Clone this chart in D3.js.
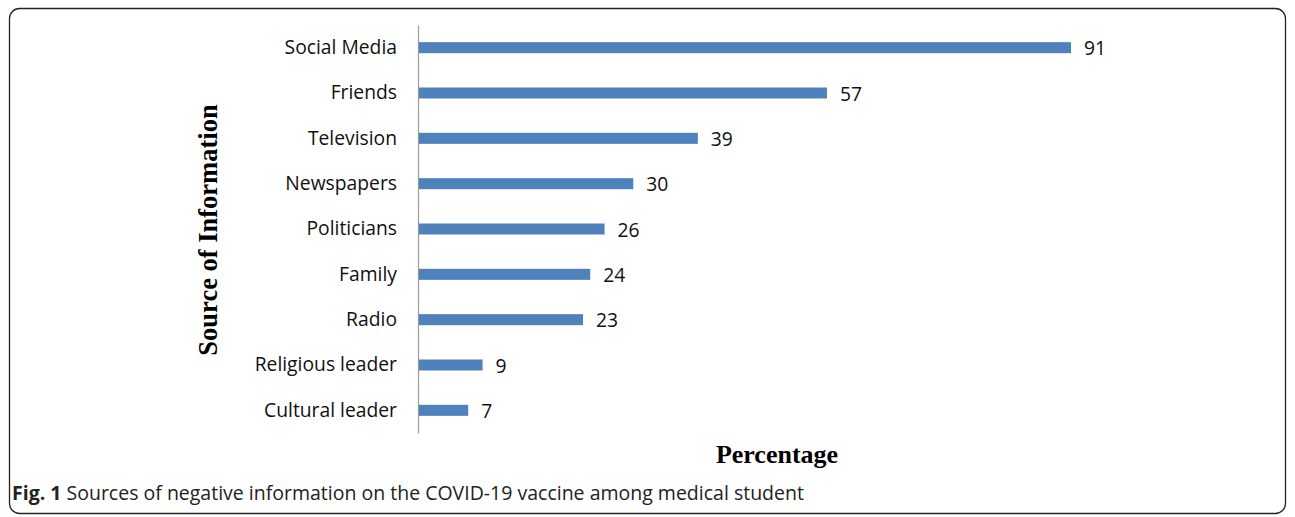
<!DOCTYPE html>
<html>
<head>
<meta charset="utf-8">
<script src="https://cdn.jsdelivr.net/npm/d3@7"></script>
<style>
  body { margin: 0; background: #fff; }
</style>
</head>
<body>
<div id="chart"></div>
<script>
// data
const sources = ["Social Media", "Friends", "Television", "Newspapers", "Politicians",
                 "Family", "Radio", "Religious leader", "Cultural leader"];
const percentages = [91, 57, 39, 30, 26, 24, 23, 9, 7];

const W = 1295, H = 517;
const margin = { top: 25, bottom: 84, left: 418, right: 224 };

const svg = d3.select("#chart").append("svg")
  .attr("width", W)
  .attr("height", H);

// frame around figure
svg.append("rect")
  .attr("x", 9.5).attr("y", 8.5)
  .attr("width", 1276).attr("height", 505)
  .attr("rx", 10).attr("ry", 10)
  .attr("fill", "none")
  .attr("stroke", "#222")
  .attr("stroke-width", 1.3);

const x = d3.scaleLinear()
  .domain([0, 91])
  .range([margin.left, 1071]);

const y = d3.scaleBand()
  .domain(sources)
  .range([margin.top, H - margin.bottom])
  .paddingInner(0);

const data = sources.map((s, i) => ({ source: s, value: percentages[i] }));

// y axis line + labels
const yAxis = d3.axisLeft(y).tickSize(0).tickPadding(21);
const gy = svg.append("g")
  .attr("transform", `translate(${margin.left},0)`)
  .call(yAxis);
gy.select(".domain").attr("stroke", "#9a9a9a").attr("stroke-width", 1.2);
gy.selectAll("text")
  .attr("font-family", "'Open Sans', sans-serif")
  .attr("font-size", 19.3)
  .attr("fill", "#111");

const barH = 11;
svg.selectAll(".bar")
  .data(data)
  .enter().append("rect")
  .attr("class", "bar")
  .attr("x", x(0) + 1)
  .attr("y", d => y(d.source) + y.bandwidth() / 2 - barH / 2)
  .attr("width", d => x(d.value) - x(0) - 1)
  .attr("height", barH)
  .attr("fill", "#4f81bd");

svg.selectAll(".label")
  .data(data)
  .enter().append("text")
  .attr("class", "label")
  .attr("x", d => x(d.value) + 13)
  .attr("y", d => y(d.source) + y.bandwidth() / 2 + 1)
  .attr("dy", "0.35em")
  .attr("font-family", "'Open Sans', sans-serif")
  .attr("font-size", 19.3)
  .attr("fill", "#111")
  .text(d => d.value);

// axis titles
svg.append("text")
  .attr("transform", "translate(217,230) rotate(-90)")
  .attr("text-anchor", "middle")
  .attr("font-family", "'Liberation Serif', 'Times New Roman', serif")
  .attr("font-weight", "bold")
  .attr("font-size", 26.5)
  .attr("fill", "#000")
  .text("Source of Information");

svg.append("text")
  .attr("x", 777)
  .attr("y", 463)
  .attr("text-anchor", "middle")
  .attr("font-family", "'Liberation Serif', 'Times New Roman', serif")
  .attr("font-weight", "bold")
  .attr("font-size", 26)
  .attr("fill", "#000")
  .text("Percentage");

// caption
const cap = svg.append("text")
  .attr("x", 12)
  .attr("y", 500)
  .attr("font-family", "'Open Sans', sans-serif")
  .attr("font-size", 19.5)
  .attr("fill", "#222");
cap.append("tspan").attr("font-weight", "bold").text("Fig. 1");
cap.append("tspan").text(" Sources of negative information on the COVID-19 vaccine among medical student");
</script>
</body>
</html>
